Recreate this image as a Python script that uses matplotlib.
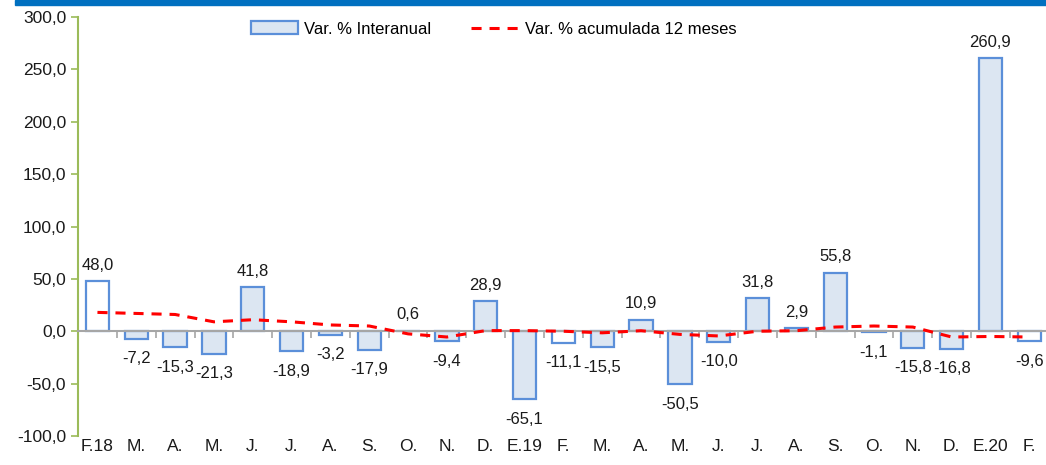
import numpy as np
import matplotlib.pyplot as plt
from matplotlib.patches import Patch
from matplotlib.lines import Line2D
from matplotlib.ticker import FuncFormatter

plt.rcParams['font.family'] = ['Liberation Sans', 'DejaVu Sans']

# monthly categories Feb 2018 - Feb 2020
meses = ['F.18', 'M.', 'A.', 'M.', 'J.', 'J.', 'A.', 'S.', 'O.', 'N.', 'D.', 'E.19',
         'F.', 'M.', 'A.', 'M.', 'J.', 'J.', 'A.', 'S.', 'O.', 'N.', 'D.', 'E.20', 'F.']
interanual = [48.0, -7.2, -15.3, -21.3, 41.8, -18.9, -3.2, -17.9, 0.6, -9.4, 28.9, -65.1,
              -11.1, -15.5, 10.9, -50.5, -10.0, 31.8, 2.9, 55.8, -1.1, -15.8, -16.8, 260.9, -9.6]
acumulada = [18, 17, 16, 9, 11, 9, 6, 5, -2.5, -5.5, 0.6, 0.6,
             0, -1.5, 0.5, -3, -4.5, 0, 0.5, 4, 5, 4, -5.5, -5, -5.5]

x = np.arange(len(meses))
edge = '#5B8FD9'
fill = '#DCE6F2'
fills = ['white' if m.startswith('F') else fill for m in meses]
dash = (0, (3.3, 2.6))

fig = plt.figure(figsize=(10.46, 4.65), dpi=100)
ax = fig.add_axes([0.0746, 0.0624, 0.928, 0.901])

ax.bar(x, interanual, width=0.6, color=fills, edgecolor=edge, linewidth=1.6, zorder=2)
ax.plot(x, acumulada, color='#FF0000', linestyle=dash, linewidth=2.2, zorder=3)

for xi, v in zip(x, interanual):
    txt = f'{v:.1f}'.replace('.', ',')
    if v >= 0:
        ax.annotate(txt, (xi, v), xytext=(0, 6), textcoords='offset points',
                    ha='center', va='bottom', fontsize=12, color='#1a1a1a')
    else:
        ax.annotate(txt, (xi, v), xytext=(0, -9), textcoords='offset points',
                    ha='center', va='top', fontsize=12, color='#1a1a1a')

ax.set_xlim(-0.5, len(meses) - 0.5)
ax.set_ylim(-100, 300)
ax.set_yticks(np.arange(-100, 301, 50))
ax.yaxis.set_major_formatter(FuncFormatter(lambda v, p: f'{v:.1f}'.replace('.', ',')))
ax.tick_params(axis='y', labelsize=12.5, colors='#9BBB59', labelcolor='#1a1a1a',
               length=5, width=1.2)

for s in ['top', 'right']:
    ax.spines[s].set_visible(False)
ax.spines['left'].set_color('#9BBB59')
ax.spines['left'].set_linewidth(1.5)
ax.spines['bottom'].set_position(('data', 0))
ax.spines['bottom'].set_color('#A6A6A6')
ax.spines['bottom'].set_linewidth(1.5)
ax.spines['bottom'].set_zorder(2.5)

ax.set_xticks(x)
ax.set_xticks(np.arange(-0.5, len(meses), 1), minor=True)
ax.tick_params(axis='x', which='major', length=0, labelbottom=False)
ax.tick_params(axis='x', which='minor', length=5, width=1.2, colors='#A6A6A6', direction='out')

sec = ax.secondary_xaxis(0)
sec.set_xticks(x)
sec.set_xticklabels(meses)
sec.tick_params(length=0, labelsize=12.5, pad=2, labelcolor='#1a1a1a')
sec.spines['bottom'].set_visible(False)

handles = [Patch(facecolor=fill, edgecolor=edge, linewidth=1.6),
           Line2D([], [], color='#FF0000', linestyle=dash, linewidth=2.2)]
fig.legend(handles, ['Var. % Interanual', 'Var. % acumulada 12 meses'],
           loc='center', bbox_to_anchor=(0.472, 0.9376), ncol=2, frameon=False,
           fontsize=12, handlelength=2.8, handleheight=0.8, handletextpad=0.4,
           columnspacing=2.4)

# blue stripe along the top
fig.patches.append(plt.Rectangle((15 / 1046, 1 - 5 / 465), 1, 5 / 465,
                                 transform=fig.transFigure, color='#0070C0', zorder=0))

fig.savefig('out.png', dpi=100)
